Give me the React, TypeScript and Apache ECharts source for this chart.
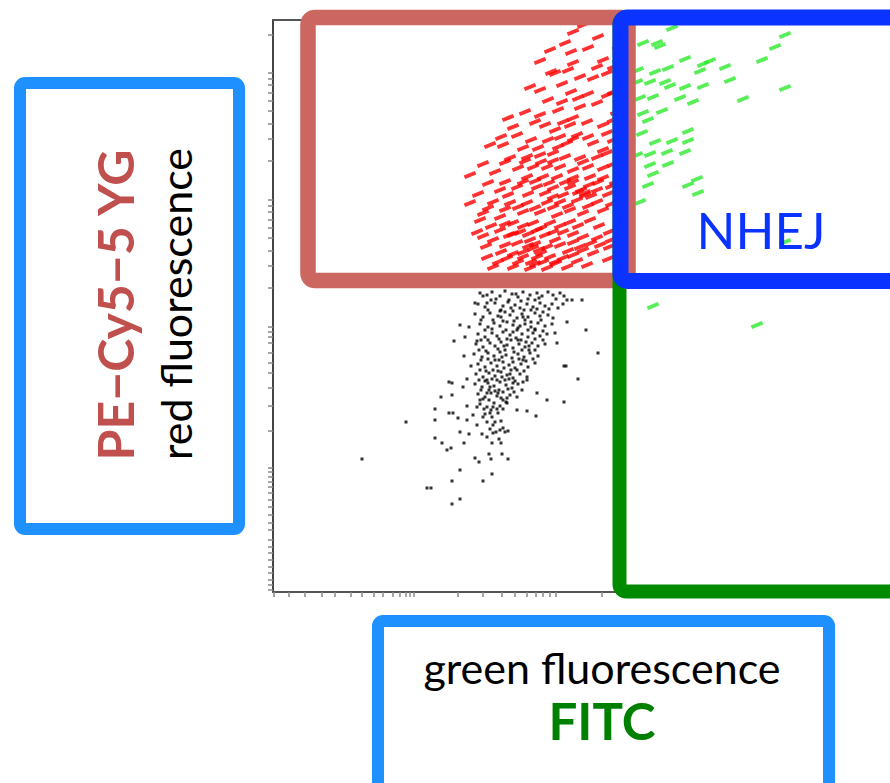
import React, { useEffect, useRef } from "react";
import * as echarts from "echarts";

// Axis units: display channels (x: 0..617, y: 0..572)
const xTickValues = [1, 16, 32, 49, 62, 78, 89, 101, 110, 120, 127, 133, 137, 141, 185, 210, 229, 242, 254, 263, 270, 277, 283, 329];
const yTickValues = [2, 7, 12, 19, 25, 32, 39, 45, 52, 62, 69, 77, 85, 92, 99, 105, 110, 115, 120, 124, 161, 186, 204, 219, 229, 239, 249, 255, 260, 265, 304, 326, 341, 354, 364, 372, 380, 386, 392, 431, 453, 468, 481, 491, 499, 507, 513, 519, 557];

// PE-Cy5-5 positive, FITC negative (red gate)
const redEvents = [
  [310, 567], [292, 549], [277, 542], [315, 544], [267, 531], [300, 529], [324, 525], [282, 519], [330, 532],
  [257, 505], [267, 502], [289, 508], [307, 515], [320, 514], [334, 519], [289, 490], [305, 494], [307, 485],
  [324, 489], [334, 497], [235, 474], [252, 480], [267, 477], [285, 482], [300, 474], [240, 465], [272, 467],
  [282, 462], [297, 467], [330, 467], [244, 457], [287, 455], [304, 457], [315, 455], [334, 459], [217, 447],
  [230, 447], [250, 444], [265, 444], [285, 445], [294, 449], [320, 449], [330, 442], [237, 434], [254, 435],
  [267, 437], [280, 439], [292, 435], [307, 434], [324, 435], [334, 439], [197, 417], [222, 420], [245, 424],
  [260, 425], [274, 425], [287, 425], [300, 422], [315, 425], [330, 424], [254, 415], [270, 415], [284, 415],
  [300, 414], [317, 415], [330, 414], [227, 402], [244, 405], [264, 405], [280, 404], [297, 405], [305, 400],
  [312, 399], [324, 402], [197, 389], [220, 390], [237, 389], [254, 389], [274, 390], [287, 390], [304, 392],
  [324, 390], [210, 379], [227, 375], [250, 380], [267, 380], [284, 377], [297, 382], [310, 379], [330, 382],
  [207, 372], [240, 369], [260, 369], [277, 369], [297, 370], [317, 372], [204, 360], [227, 362], [247, 360],
  [264, 362], [280, 360], [290, 360], [310, 355], [324, 354], [220, 352], [244, 349], [257, 352], [260, 344],
  [274, 345], [287, 347], [307, 345], [327, 347], [214, 335], [234, 334], [250, 335], [264, 335], [277, 335],
  [290, 334], [300, 337], [320, 339], [220, 325], [240, 325], [257, 324], [274, 324], [294, 325], [314, 327],
  [312, 397], [262, 348], [266, 342], [258, 330], [270, 330], [316, 407], [300, 410], [280, 395], [240, 358],
  [318, 396], [308, 402], [255, 346], [250, 340], [282, 330], [345, 545], [343, 480], [342, 410],
  [225, 330], [245, 330], [262, 328], [283, 329], [304, 331], [335, 333], [228, 340], [240, 338], [268, 339],
  [295, 341], [310, 342], [336, 345], [213, 346], [232, 347], [282, 352], [300, 350], [318, 349], [338, 352],
  [210, 356], [236, 357], [255, 358], [272, 357], [300, 358], [336, 360], [218, 366], [232, 368], [250, 366],
  [268, 364], [287, 366], [305, 366], [326, 366], [215, 384], [232, 383], [245, 385], [262, 384], [280, 385],
  [295, 386], [315, 386], [338, 388], [205, 398], [235, 397], [255, 398], [272, 399], [290, 397], [335, 398],
  [215, 409], [232, 410], [250, 410], [262, 411], [276, 409], [292, 410], [325, 410], [338, 406], [210, 428],
  [232, 430], [252, 431], [268, 430], [280, 431], [310, 430], [340, 428], [228, 455], [258, 452], [275, 452],
  [300, 453], [340, 452], [262, 470], [290, 470], [314, 470], [340, 472], [275, 492], [298, 500], [315, 498],
  [340, 500], [278, 520], [295, 522], [340, 525], [298, 540], [325, 555], [300, 560],
];

// PE-Cy5-5 and FITC positive (NHEJ gate) plus FITC single positive
const greenEvents = [
  [399, 564], [370, 549], [384, 549], [387, 546], [512, 557], [502, 545], [489, 532], [412, 533], [437, 531],
  [430, 528], [452, 525], [365, 522], [382, 520], [395, 524], [427, 521], [457, 512], [364, 510], [377, 510],
  [392, 510], [397, 506], [412, 505], [430, 506], [512, 504], [367, 494], [380, 495], [407, 494], [420, 490],
  [470, 493], [370, 479], [389, 481], [375, 472], [415, 461], [369, 459], [382, 450], [399, 451], [415, 451],
  [364, 437], [377, 438], [394, 440], [412, 440], [377, 427], [395, 428], [380, 418], [424, 413], [375, 407],
  [415, 407], [425, 399], [367, 390], [512, 350], [380, 286], [484, 267], [347, 472], [349, 442], [345, 532],
];

// Double negative events
const blackEvents = [
  [89, 133], [133, 170], [154, 104], [158, 104], [179, 88], [187, 93], [179, 111], [187, 122], [210, 111],
  [219, 118], [169, 149], [174, 142], [178, 144], [162, 154], [162, 172], [162, 183], [168, 195], [176, 179],
  [180, 179], [185, 174], [187, 160], [191, 149], [196, 158], [202, 134], [206, 130], [216, 138], [218, 133],
  [229, 138], [235, 133], [228, 149], [219, 149], [209, 158], [194, 172], [200, 177], [179, 209], [176, 210],
  [190, 205], [194, 213], [179, 197], [194, 186], [187, 267], [196, 265], [181, 251], [192, 255], [191, 236],
  [198, 226], [204, 251], [202, 289], [214, 289], [263, 176], [274, 192], [291, 190], [305, 213], [291, 226],
  [293, 226], [325, 239], [313, 262], [294, 270], [282, 259], [284, 249], [309, 292], [294, 292], [299, 292],
  [244, 182], [254, 181], [227, 162], [220, 159], [232, 160], [204, 167], [210, 175], [217, 179], [220, 185],
  [230, 192], [225, 199], [204, 185], [207, 192], [214, 199], [217, 205], [224, 212], [234, 189], [244, 195],
  [249, 202], [254, 212], [264, 199], [240, 209],
  [207, 299], [214, 297], [219, 300], [227, 296], [232, 301], [239, 298], [245, 295], [250, 300], [257, 297],
  [264, 299], [269, 296], [275, 300], [280, 297], [287, 299],
  [205, 288], [212, 285], [222, 289], [230, 286], [235, 290], [242, 287], [247, 284], [254, 288], [260, 285],
  [267, 289], [272, 286], [279, 288], [285, 284],
  [202, 278], [210, 275], [217, 279], [225, 276], [232, 280], [237, 277], [244, 274], [249, 278], [255, 275],
  [262, 279], [267, 276], [275, 277],
  [207, 268], [215, 265], [221, 269], [227, 266], [234, 270], [240, 267], [245, 264], [252, 268], [258, 265],
  [265, 269], [272, 266], [279, 268],
  [205, 258], [212, 255], [219, 259], [224, 256], [230, 260], [237, 257], [243, 254], [249, 258], [255, 255],
  [260, 259], [267, 256], [274, 258],
  [203, 248], [210, 245], [217, 249], [222, 246], [228, 250], [234, 247], [240, 244], [246, 248], [252, 245],
  [259, 249], [265, 246], [272, 248],
  [201, 238], [209, 235], [215, 239], [221, 236], [227, 240], [233, 237], [239, 234], [245, 238], [251, 235],
  [257, 239], [265, 236],
  [205, 228], [212, 225], [218, 229], [224, 226], [230, 230], [236, 227], [242, 224], [248, 228], [255, 225],
  [262, 229],
  [203, 218], [210, 215], [216, 219], [222, 216], [228, 220], [234, 217], [240, 214], [247, 218], [254, 215],
  [202, 208], [209, 205], [215, 209], [221, 206], [227, 210], [233, 207], [239, 204], [245, 208],
  [205, 198], [212, 195], [218, 199], [224, 196], [230, 200], [237, 197],
  [207, 188], [214, 185], [221, 189], [227, 186], [233, 190],
  [212, 178], [219, 175], [225, 179],
  [217, 163], [223, 160], [230, 164], [235, 161],
  [236, 292], [248, 291], [258, 282], [252, 272], [244, 262], [238, 252], [232, 242], [226, 232], [238, 222],
  [232, 212], [226, 202], [262, 292], [240, 281], [230, 271], [248, 252], [256, 242], [220, 222], [250, 232],
  [214, 212], [270, 280], [262, 262], [228, 282], [218, 292],
  [210, 296], [223, 293], [243, 298], [255, 293], [266, 294], [283, 293], [291, 296], [215, 282], [227, 281],
  [238, 284], [251, 282], [264, 283], [276, 283], [290, 288], [208, 272], [220, 272], [228, 275], [241, 271],
  [250, 275], [258, 270], [268, 272], [280, 274], [212, 262], [219, 263], [233, 262], [240, 260], [247, 266],
  [255, 262], [262, 263], [270, 261], [208, 252], [215, 252], [226, 253], [234, 253], [245, 252], [253, 250],
  [262, 253], [270, 252], [206, 242], [213, 241], [225, 243], [231, 246], [241, 240], [249, 242], [256, 246],
  [262, 242], [208, 232], [215, 233], [222, 232], [229, 235], [240, 230], [246, 233], [253, 231], [260, 233],
  [207, 222], [213, 221], [225, 221], [231, 224], [237, 218], [244, 222], [251, 221], [206, 212], [212, 211],
  [219, 213], [229, 215], [236, 213], [242, 211], [250, 210], [208, 202], [216, 202], [222, 201], [235, 203],
  [241, 200], [210, 193], [216, 192], [228, 194], [234, 194], [211, 183], [218, 182], [224, 183], [230, 183],
  [214, 170], [222, 170], [228, 171], [220, 167], [214, 155], [226, 153],
];

const X_MAX = 617;
const Y_MAX = 572;

export default function App() {
  const ref = useRef<HTMLDivElement>(null);

  useEffect(() => {
    if (!ref.current) return;
    const chart = echarts.init(ref.current, null, { renderer: "svg" });
    const font = "Lato, 'Noto Sans', sans-serif";
    const option: any = {
      animation: false,
      backgroundColor: "#ffffff",
      grid: { left: 273, top: 20, width: 617, height: 572 },
      xAxis: [
        {
          type: "value",
          min: 0,
          max: X_MAX,
          axisLine: { show: true, onZero: false, lineStyle: { color: "#555", width: 2 } },
          axisTick: { show: true, customValues: xTickValues, length: 5, lineStyle: { color: "#888", width: 1.5 } },
          axisLabel: { show: false },
          splitLine: { show: false },
        },
        {
          type: "value",
          position: "top",
          min: 0,
          max: X_MAX,
          axisLine: { show: true, onZero: false, lineStyle: { color: "#555", width: 2 } },
          axisTick: { show: false },
          axisLabel: { show: false },
          splitLine: { show: false },
        },
      ],
      yAxis: {
        type: "value",
        min: 0,
        max: Y_MAX,
        axisLine: { show: true, onZero: false, lineStyle: { color: "#444", width: 2 } },
        axisTick: { show: true, customValues: yTickValues, length: 5, lineStyle: { color: "#888", width: 1.5 } },
        axisLabel: { show: false },
        splitLine: { show: false },
      },
      series: [
        {
          type: "scatter",
          data: blackEvents,
          symbol: "rect",
          symbolSize: [3, 3],
          itemStyle: { color: "#000", opacity: 0.8 },
          silent: true,
        },
        {
          type: "scatter",
          data: redEvents,
          symbol: "rect",
          symbolSize: [12, 4],
          symbolRotate: 22,
          itemStyle: { color: "#ff0000" },
          silent: true,
        },
        {
          type: "scatter",
          data: greenEvents,
          symbol: "rect",
          symbolSize: [12, 4],
          symbolRotate: 22,
          itemStyle: { color: "#2eea2e" },
          silent: true,
        },
      ],
      graphic: [
        {
          type: "rect",
          z: 100,
          shape: { x: 308, y: 17.5, width: 320, height: 263, r: 7 },
          style: { fill: "transparent", stroke: "#cc6660", lineWidth: 15.5 },
        },
        {
          type: "rect",
          z: 101,
          shape: { x: 619.5, y: 17.5, width: 400, height: 574, r: 7 },
          style: { fill: "transparent", stroke: "#008a00", lineWidth: 14 },
        },
        {
          type: "rect",
          z: 102,
          shape: { x: 620.5, y: 17.5, width: 400, height: 263.5, r: 7 },
          style: { fill: "transparent", stroke: "#0a33ff", lineWidth: 16 },
        },
        {
          type: "text",
          z: 103,
          x: 761,
          y: 229,
          style: {
            text: "NHEJ",
            fill: "#0a33ff",
            font: `51px ${font}`,
            textAlign: "center",
            textVerticalAlign: "middle",
          },
        },
        {
          type: "rect",
          z: 100,
          shape: { x: 20, y: 83, width: 219, height: 446, r: 5 },
          style: { fill: "transparent", stroke: "#1e90ff", lineWidth: 12 },
        },
        {
          type: "text",
          z: 103,
          x: 115,
          y: 305,
          rotation: Math.PI / 2,
          style: {
            text: "PE\u2212Cy5\u22125 YG",
            fill: "#c0504d",
            font: `bold 50px ${font}`,
            textAlign: "center",
            textVerticalAlign: "middle",
          },
        },
        {
          type: "text",
          z: 103,
          x: 175,
          y: 304,
          rotation: Math.PI / 2,
          style: {
            text: "red fluorescence",
            fill: "#000",
            font: `43px ${font}`,
            textAlign: "center",
            textVerticalAlign: "middle",
          },
        },
        {
          type: "rect",
          z: 100,
          shape: { x: 378, y: 621, width: 451, height: 220, r: 5 },
          style: { fill: "transparent", stroke: "#1e90ff", lineWidth: 12 },
        },
        {
          type: "text",
          z: 103,
          x: 602,
          y: 667,
          style: {
            text: "green fluorescence",
            fill: "#000",
            font: `43px ${font}`,
            textAlign: "center",
            textVerticalAlign: "middle",
          },
        },
        {
          type: "text",
          z: 103,
          x: 602,
          y: 720,
          style: {
            text: "FITC",
            fill: "#008000",
            font: `bold 51px ${font}`,
            textAlign: "center",
            textVerticalAlign: "middle",
          },
        },
      ],
    };
    chart.setOption(option);
    return () => chart.dispose();
  }, []);

  return (
    <div
      ref={ref}
      style={{ position: "absolute", left: 0, top: 0, width: 890, height: 783, background: "#fff" }}
    />
  );
}
